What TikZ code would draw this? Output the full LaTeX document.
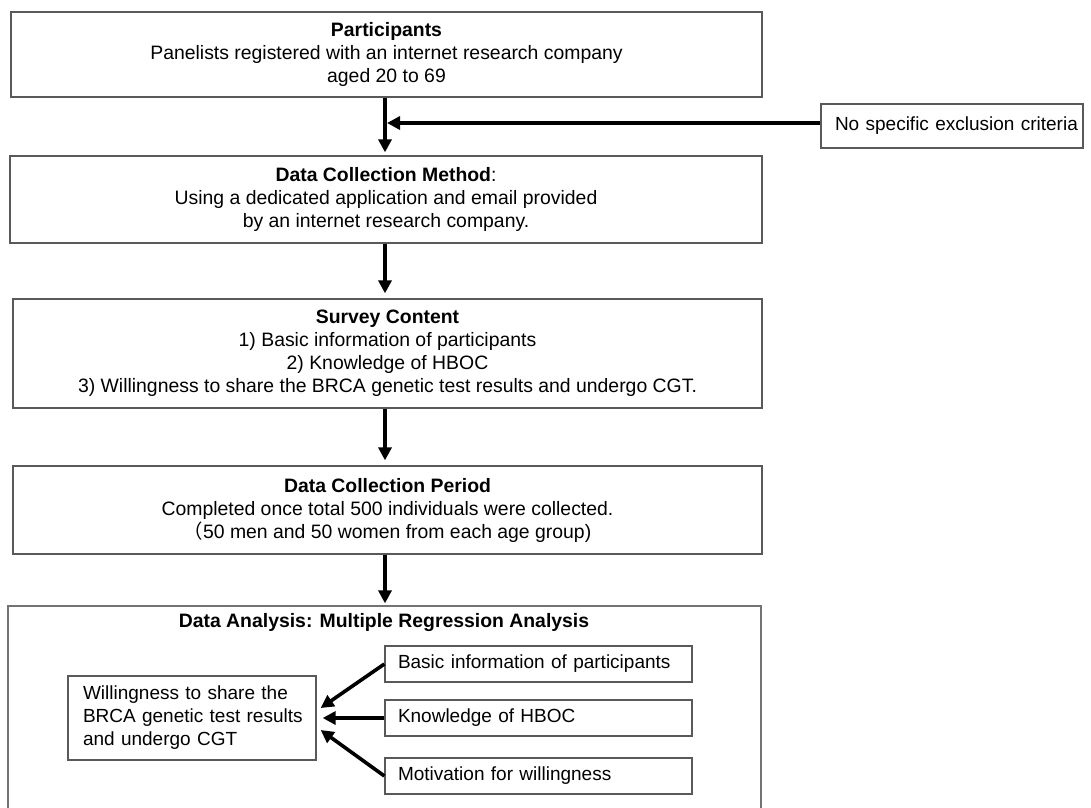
\documentclass[tikz,border=0pt]{standalone}
\usepackage{fontspec}
\setmainfont{Liberation Sans}
\newfontfamily\cjkfont{Noto Sans CJK JP}
\usetikzlibrary{arrows.meta,calc}
\tikzset{
  txt/.style={font=\fontsize{19.4}{23}\selectfont},
  smalltxt/.style={font=\fontsize{19}{23}\selectfont},
  mainbox/.style={txt,draw=black!65,line width=1.3pt,align=center,inner sep=0pt},
  smallbox/.style={smalltxt,draw=black!65,line width=1.3pt,align=left,inner ysep=0pt},
  arr/.style={line width=3.6pt,-{Triangle[length=13pt,width=13pt]}},
}
\begin{document}
\begin{tikzpicture}[x=1pt,y=-1pt]
\useasboundingbox (0,0) rectangle (1091,807);
% main boxes
\node[mainbox,minimum width=751pt,minimum height=85pt] (b1) at (386.5,54.5)
  {\textbf{Participants}\\Panelists registered with an internet research company\\aged 20 to 69};
\node[mainbox,minimum width=752pt,minimum height=87pt] (b2) at (386,199.5)
  {\textbf{Data Collection Method}:\\Using a dedicated application and email provided\\by an internet research company.};
\node[mainbox,minimum width=749pt,minimum height=109pt] (b3) at (387.5,353.5)
  {\textbf{Survey Content}\\1) Basic information of participants\\2) Knowledge of HBOC\\3) Willingness to share the BRCA genetic test results and undergo CGT.};
\node[mainbox,minimum width=749pt,minimum height=88pt] (b4) at (387.5,510)
  {\textbf{Data Collection Period}\\Completed once total 500 individuals were collected.\\{\cjkfont （}50 men and 50 women from each age group)};
\node[draw=black!55,line width=1.3pt,minimum width=753pt,minimum height=204pt,inner sep=0pt] (b5) at (384.5,708) {};
\node[font=\fontsize{19.4}{23}\selectfont\bfseries] (b5title) at (384,623) {Data Analysis: Multiple Regression Analysis};
% side box
\node[smallbox,inner xsep=14pt,minimum height=44pt,text width=234pt] (excl) at (952,126) {\mbox{No specific exclusion criteria}};
% inner boxes
\node[smallbox,inner xsep=15pt,minimum height=84pt,text width=218pt] (will) at (192,718)
  {\mbox{Willingness to share the}\\\mbox{BRCA genetic test results}\\\mbox{and undergo CGT}};
\node[smallbox,inner xsep=13pt,minimum height=36pt,text width=281pt] (basic) at (538.5,664) {\mbox{Basic information of participants}};
\node[smallbox,inner xsep=13pt,minimum height=36pt,text width=281pt] (know) at (538.5,718) {Knowledge of HBOC};
\node[smallbox,inner xsep=13pt,minimum height=36pt,text width=281pt] (motiv) at (538.5,776) {Motivation for willingness};
% column coordinate
\coordinate (colx) at (385,0);
% vertical arrows
\draw[arr,shorten >=3pt] (b1.south -| colx) -- (b2.north -| colx);
\draw[arr,shorten >=5pt] (b2.south -| colx) -- (b3.north -| colx);
\draw[arr,shorten >=5pt] (b3.south -| colx) -- (b4.north -| colx);
\draw[arr,shorten >=2pt] (b4.south -| colx) -- (b5.north -| colx);
% exclusion arrow
\coordinate (exj) at ($(excl.west -| colx)+(2,-3)$);
\draw[arr] ($(excl.west)+(0,-3)$) -- (exj);
% regression arrows
\draw[arr] (basic.west) -- ([xshift=4pt,yshift=10pt]will.east);
\draw[arr] (know.west) -- ([xshift=6pt]will.east);
\draw[arr] (motiv.west) -- ([xshift=4pt,yshift=-12pt]will.east);
\end{tikzpicture}
\end{document}
